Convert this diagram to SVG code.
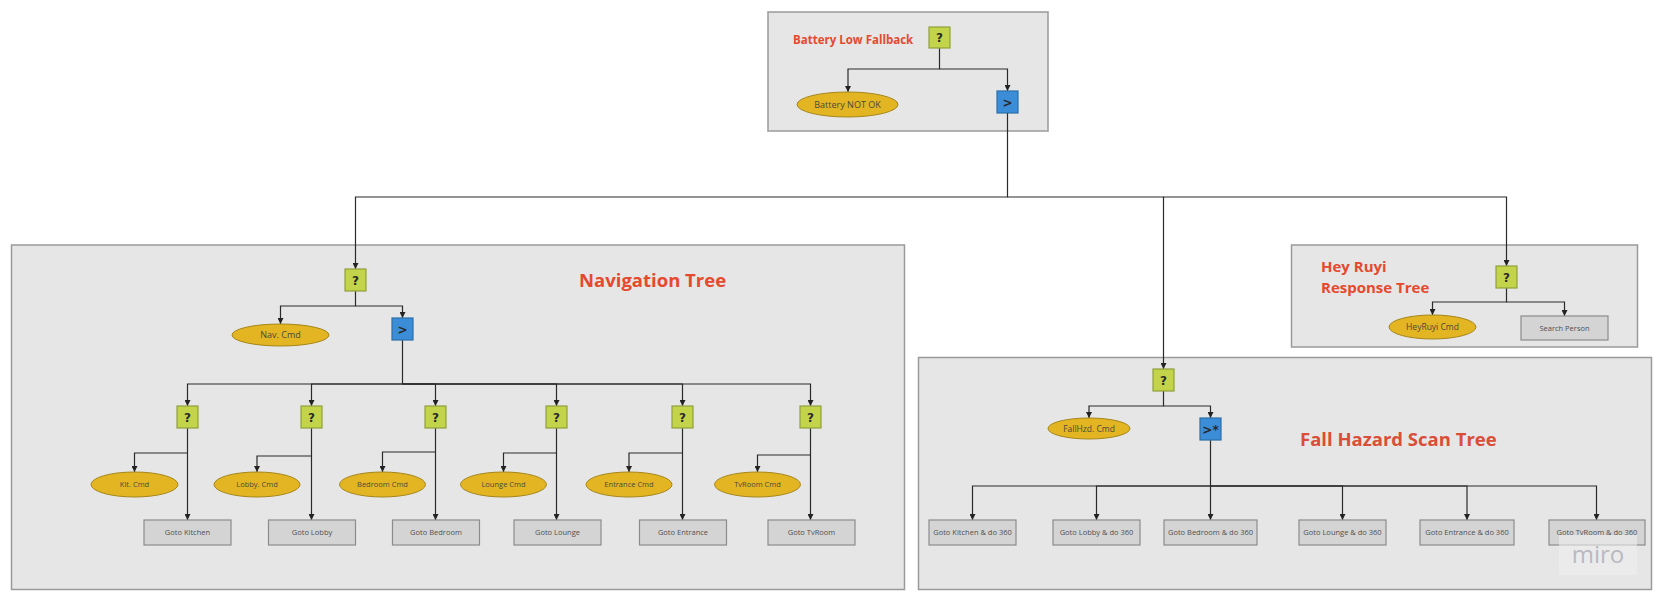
<svg xmlns="http://www.w3.org/2000/svg" width="1663" height="601" viewBox="0 0 1663 601">
<defs>
<marker id="arr" markerUnits="userSpaceOnUse" markerWidth="6" markerHeight="6" viewBox="0 0 6 6" refX="6" refY="3" orient="auto">
<path d="M0,0 L6,3 L0,6 Z" fill="#222"/>
</marker>
</defs>
<style>
.panel{fill:#E6E6E6;stroke:#9A9A9A;stroke-width:1.5}
.sel{fill:#C3D44A;stroke:#8FA13A;stroke-width:1.2}
.seq{fill:#3C8DD8;stroke:#2B6EA8;stroke-width:1.2}
.cond{fill:#E3B523;stroke:#A5861A;stroke-width:1}
.act{fill:#D4D4D4;stroke:#8C8C8C;stroke-width:1.2}
.sym{font-family:"DejaVu Sans",sans-serif;font-weight:bold;font-size:12px;fill:#2a2a2a;text-anchor:middle}
.lbl{font-family:"Open Sans","Liberation Sans",sans-serif;fill:#4a4a3a;text-anchor:middle}
.alb{font-family:"Open Sans","Liberation Sans",sans-serif;fill:#505050;text-anchor:middle;font-size:7.5px}
.title{font-family:"Open Sans","Liberation Sans",sans-serif;font-weight:bold;fill:#E5492E}
.conn{fill:none;stroke:#2a2a2a;stroke-width:1.2}
</style>

<g id="panels">
<rect id="panel-battery" class="panel" x="768" y="12" width="280" height="119"/>
<rect id="panel-nav" class="panel" x="11.5" y="245" width="893" height="344.5"/>
<rect id="panel-heyruyi" class="panel" x="1291.5" y="245" width="346" height="102"/>
<rect id="panel-fall" class="panel" x="918.5" y="357.5" width="733" height="232"/>
</g>

<g id="titles">
<text class="title" x="793" y="44" font-size="11.5">Battery Low Fallback</text>
<text class="title" x="579" y="287" font-size="18.5">Navigation Tree</text>
<text class="title" x="1321" y="272" font-size="15">Hey Ruyi</text>
<text class="title" x="1321" y="293" font-size="15">Response Tree</text>
<text class="title" x="1300" y="446" font-size="18.5" style="fill:#DA4E37">Fall Hazard Scan Tree</text>
</g>

<g id="connectors">
<path class="conn" marker-end="url(#arr)" d="M939.5,48 V69 H848 V92"/>
<path class="conn" marker-end="url(#arr)" d="M939.5,69 H1007.5 V91"/>
<path class="conn" marker-end="url(#arr)" d="M1007.5,113 V197 H355.5 V269"/>
<path class="conn" marker-end="url(#arr)" d="M1007.5,197 H1163.5 V369"/>
<path class="conn" marker-end="url(#arr)" d="M1163.5,197 H1506.5 V266"/>

<path class="conn" marker-end="url(#arr)" d="M355.5,291 V306 H280.5 V324"/>
<path class="conn" marker-end="url(#arr)" d="M355.5,306 H402.5 V318"/>
<path class="conn" marker-end="url(#arr)" d="M402.5,340 V384 H187.5 V406"/>
<path class="conn" marker-end="url(#arr)" d="M402.5,384 H311.5 V406"/>
<path class="conn" marker-end="url(#arr)" d="M402.5,384 H435.5 V406"/>
<path class="conn" marker-end="url(#arr)" d="M402.5,384 H556.5 V406"/>
<path class="conn" marker-end="url(#arr)" d="M402.5,384 H682.5 V406"/>
<path class="conn" marker-end="url(#arr)" d="M402.5,384 H810.5 V406"/>

<path class="conn" marker-end="url(#arr)" d="M187.5,428 V520"/>
<path class="conn" marker-end="url(#arr)" d="M187.5,453 H134.5 V472"/>
<path class="conn" marker-end="url(#arr)" d="M311.5,428 V520"/>
<path class="conn" marker-end="url(#arr)" d="M311.5,456 H257 V472"/>
<path class="conn" marker-end="url(#arr)" d="M435.5,428 V520"/>
<path class="conn" marker-end="url(#arr)" d="M435.5,452 H382.5 V472"/>
<path class="conn" marker-end="url(#arr)" d="M556.5,428 V520"/>
<path class="conn" marker-end="url(#arr)" d="M556.5,453 H503.5 V472"/>
<path class="conn" marker-end="url(#arr)" d="M682.5,428 V520"/>
<path class="conn" marker-end="url(#arr)" d="M682.5,453 H629 V472"/>
<path class="conn" marker-end="url(#arr)" d="M810.5,428 V520"/>
<path class="conn" marker-end="url(#arr)" d="M810.5,455 H757.5 V472"/>

<path class="conn" marker-end="url(#arr)" d="M1506.5,288 V302 H1432.5 V315"/>
<path class="conn" marker-end="url(#arr)" d="M1506.5,302 H1564.5 V316"/>

<path class="conn" marker-end="url(#arr)" d="M1163.5,391 V406 H1089 V418"/>
<path class="conn" marker-end="url(#arr)" d="M1163.5,406 H1210.5 V418"/>
<path class="conn" marker-end="url(#arr)" d="M1210.5,440 V486 H972.5 V520"/>
<path class="conn" marker-end="url(#arr)" d="M1210.5,486 H1096.5 V520"/>
<path class="conn" marker-end="url(#arr)" d="M1210.5,486 V520"/>
<path class="conn" marker-end="url(#arr)" d="M1210.5,486 H1342.5 V520"/>
<path class="conn" marker-end="url(#arr)" d="M1210.5,486 H1467 V520"/>
<path class="conn" marker-end="url(#arr)" d="M1210.5,486 H1596.5 V520"/>
</g>

<g id="battery-root"><rect class="sel" x="929" y="27" width="21" height="21"/><text class="sym" x="939.5" y="42">?</text></g>
<g id="battery-not-ok"><ellipse class="cond" cx="847.5" cy="104.5" rx="50.5" ry="12.5"/><text class="lbl" x="847.5" y="107.5" font-size="9">Battery NOT OK</text></g>
<g id="battery-seq"><rect class="seq" x="997" y="91" width="21" height="22"/><text class="sym" x="1007.5" y="106.5">&gt;</text></g>

<g id="nav-root"><rect class="sel" x="345" y="269" width="21" height="22"/><text class="sym" x="355.5" y="284.5">?</text></g>
<g id="nav-cmd"><ellipse class="cond" cx="280.5" cy="335" rx="48.5" ry="11"/><text class="lbl" x="280.5" y="338" font-size="9">Nav. Cmd</text></g>
<g id="nav-seq"><rect class="seq" x="392" y="318" width="21" height="22"/><text class="sym" x="402.5" y="333.5">&gt;</text></g>

<g id="nav-kitchen">
<rect class="sel" x="177" y="406" width="21" height="22"/><text class="sym" x="187.5" y="421.5">?</text>
<ellipse class="cond" cx="134.5" cy="484.5" rx="43.5" ry="12.5"/><text class="lbl" x="134.5" y="487" font-size="7.5">Kit. Cmd</text>
<rect class="act" x="144" y="520" width="87" height="25"/><text class="alb" x="187.5" y="535">Goto Kitchen</text>
</g>
<g id="nav-lobby">
<rect class="sel" x="301" y="406" width="21" height="22"/><text class="sym" x="311.5" y="421.5">?</text>
<ellipse class="cond" cx="257" cy="484.5" rx="43" ry="12.5"/><text class="lbl" x="257" y="487" font-size="7.5">Lobby. Cmd</text>
<rect class="act" x="268.5" y="520" width="87" height="25"/><text class="alb" x="312" y="535">Goto Lobby</text>
</g>
<g id="nav-bedroom">
<rect class="sel" x="425" y="406" width="21" height="22"/><text class="sym" x="435.5" y="421.5">?</text>
<ellipse class="cond" cx="382.5" cy="484.5" rx="43" ry="12.5"/><text class="lbl" x="382.5" y="487" font-size="7.5">Bedroom Cmd</text>
<rect class="act" x="392.5" y="520" width="87" height="25"/><text class="alb" x="436" y="535">Goto Bedroom</text>
</g>
<g id="nav-lounge">
<rect class="sel" x="546" y="406" width="21" height="22"/><text class="sym" x="556.5" y="421.5">?</text>
<ellipse class="cond" cx="503.5" cy="484.5" rx="43" ry="12.5"/><text class="lbl" x="503.5" y="487" font-size="7.5">Lounge Cmd</text>
<rect class="act" x="514" y="520" width="87" height="25"/><text class="alb" x="557.5" y="535">Goto Lounge</text>
</g>
<g id="nav-entrance">
<rect class="sel" x="672" y="406" width="21" height="22"/><text class="sym" x="682.5" y="421.5">?</text>
<ellipse class="cond" cx="629" cy="484.5" rx="43" ry="12.5"/><text class="lbl" x="629" y="487" font-size="7.5">Entrance Cmd</text>
<rect class="act" x="639.5" y="520" width="87" height="25"/><text class="alb" x="683" y="535">Goto Entrance</text>
</g>
<g id="nav-tvroom">
<rect class="sel" x="800" y="406" width="21" height="22"/><text class="sym" x="810.5" y="421.5">?</text>
<ellipse class="cond" cx="757.5" cy="484.5" rx="43" ry="12.5"/><text class="lbl" x="757.5" y="487" font-size="7.5">TvRoom Cmd</text>
<rect class="act" x="768" y="520" width="87" height="25"/><text class="alb" x="811.5" y="535">Goto TvRoom</text>
</g>

<g id="hey-root"><rect class="sel" x="1496" y="266" width="21" height="22"/><text class="sym" x="1506.5" y="281.5">?</text></g>
<g id="hey-cmd"><ellipse class="cond" cx="1432.5" cy="327" rx="43.5" ry="12"/><text class="lbl" x="1432.5" y="330" font-size="8.5">HeyRuyi Cmd</text></g>
<g id="hey-search"><rect class="act" x="1521" y="316" width="87" height="24"/><text class="alb" x="1564.5" y="330.5" font-size="7">Search Person</text></g>

<g id="fall-root"><rect class="sel" x="1153" y="369" width="21" height="22"/><text class="sym" x="1163.5" y="384.5">?</text></g>
<g id="fall-cmd"><ellipse class="cond" cx="1089" cy="428.5" rx="41" ry="10.5"/><text class="lbl" x="1089" y="431.5" font-size="8.5">FallHzd. Cmd</text></g>
<g id="fall-seq"><rect class="seq" x="1200" y="418" width="21" height="22"/><text class="sym" x="1210.5" y="434" font-size="13">&gt;*</text></g>
<g id="fall-kitchen"><rect class="act" x="929" y="520" width="87" height="25"/><text class="alb" x="972.5" y="535" font-size="7">Goto Kitchen &amp; do 360</text></g>
<g id="fall-lobby"><rect class="act" x="1053" y="520" width="87" height="25"/><text class="alb" x="1096.5" y="535" font-size="7">Goto Lobby &amp; do 360</text></g>
<g id="fall-bedroom"><rect class="act" x="1164" y="520" width="93" height="25"/><text class="alb" x="1210.5" y="535" font-size="7">Goto Bedroom &amp; do 360</text></g>
<g id="fall-lounge"><rect class="act" x="1299" y="520" width="87" height="25"/><text class="alb" x="1342.5" y="535" font-size="7">Goto Lounge &amp; do 360</text></g>
<g id="fall-entrance"><rect class="act" x="1420" y="520" width="94" height="25"/><text class="alb" x="1467" y="535" font-size="7">Goto Entrance &amp; do 360</text></g>
<g id="fall-tvroom"><rect class="act" x="1549" y="520" width="96" height="25"/><text class="alb" x="1597" y="535" font-size="7">Goto TvRoom &amp; do 360</text></g>

<g id="watermark">
<rect x="1559" y="535" width="78" height="40" fill="#EEEEEE" opacity="0.6"/>
<text x="1598" y="563" font-family="Open Sans, Liberation Sans, sans-serif" font-size="24" fill="#B9B9C2" text-anchor="middle">miro</text>
</g>
</svg>
